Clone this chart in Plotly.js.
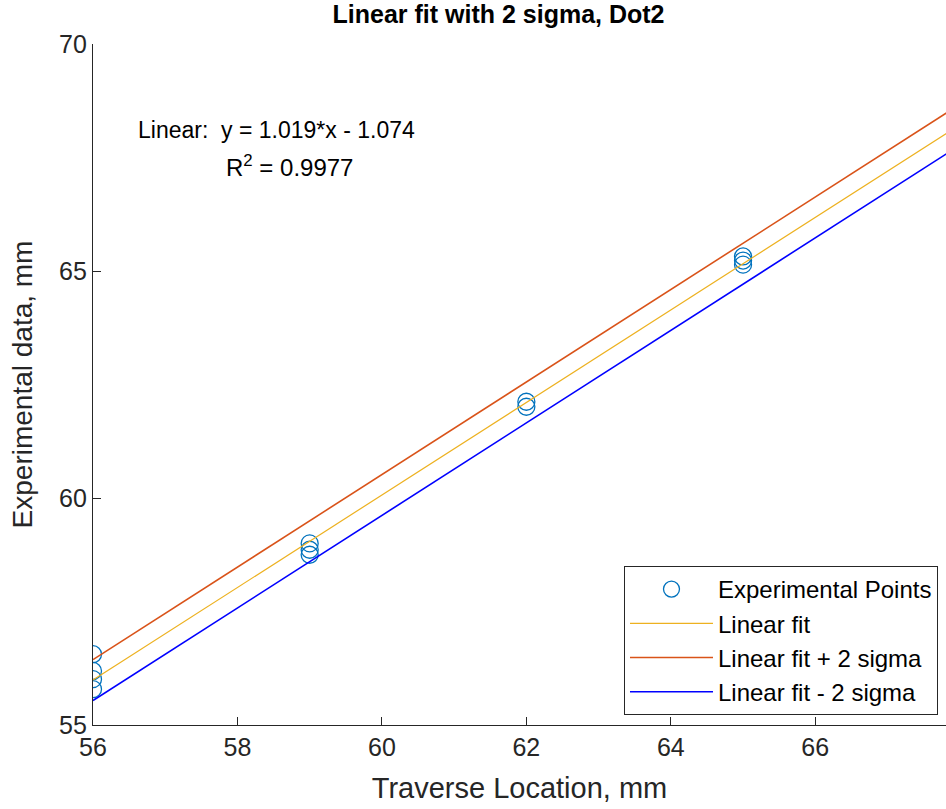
<!DOCTYPE html>
<html>
<head>
<meta charset="utf-8">
<script src="https://cdn.plot.ly/plotly-3.0.1.min.js"></script>
<style>html,body{margin:0;padding:0;background:#fff;}#chart{width:946px;height:809px;}</style>
</head>
<body>
<div id="chart"></div>
<script>
// Measured positions along the traverse (mm) and the measured values (mm)
const pointX = [56, 56, 56, 56, 59, 59, 59, 62, 62, 65, 65, 65];
const pointY = [56.56, 56.19, 56.01, 55.79, 59.00, 58.86, 58.75, 62.12, 62.01, 65.32, 65.23, 65.14];

// Fit coefficients and the 2-sigma band half-width
const slope = 1.019;
const intercept = -1.074;
const twoSigma = 0.45;
const fitX = [56, 68];

const fitY = fitX.map(x => slope * x + intercept);
const upperY = fitY.map(y => y + twoSigma);
const lowerY = fitY.map(y => y - twoSigma);

const font = 'Arial, "Liberation Sans", Helvetica, sans-serif';
const axisColor = '#262626';

const traces = [
  {x: pointX, y: pointY, mode: 'markers', name: 'Experimental Points',
   marker: {symbol: 'circle-open', size: 17, color: '#0072BD', line: {width: 1.3, color: '#0072BD'}}},
  {x: fitX, y: fitY, mode: 'lines', name: 'Linear fit', line: {color: '#EDB120', width: 1.2}},
  {x: fitX, y: upperY, mode: 'lines', name: 'Linear fit + 2 sigma', line: {color: '#D95319', width: 1.6}},
  {x: fitX, y: lowerY, mode: 'lines', name: 'Linear fit - 2 sigma', line: {color: '#0000FF', width: 1.6}}
];

const layout = {
  width: 946, height: 809,
  margin: {l: 93, r: 0, t: 44, b: 84},
  paper_bgcolor: '#fff', plot_bgcolor: '#fff',
  font: {family: font, color: axisColor},
  showlegend: true,
  title: {text: '<b>Linear fit with 2 sigma, Dot2</b>', x: 0.527, xanchor: 'center', y: 0.983, yanchor: 'middle',
          font: {size: 25, color: '#000', family: font}},
  xaxis: {range: [56, 67.81], tickvals: [56, 58, 60, 62, 64, 66], ticks: 'inside', ticklen: 8, tickcolor: axisColor,
          showline: true, linecolor: axisColor, linewidth: 1.2, showgrid: false, zeroline: false,
          tickfont: {size: 25, color: axisColor}, mirror: false,
          title: {text: 'Traverse Location, mm', font: {size: 29, color: axisColor}, standoff: 17}},
  yaxis: {range: [55, 70], tickvals: [55, 60, 65, 70], ticks: 'inside', ticklen: 8, tickcolor: axisColor,
          showline: true, linecolor: axisColor, linewidth: 1.2, showgrid: false, zeroline: false,
          tickfont: {size: 25, color: axisColor}, mirror: false,
          title: {text: 'Experimental data, mm', font: {size: 28, color: axisColor}, standoff: 18}},
  legend: {x: 0.6225, y: 0.2335, xanchor: 'left', yanchor: 'top', bgcolor: '#fff',
           bordercolor: '#262626', borderwidth: 1, font: {size: 24, color: '#000'},
           tracegroupgap: 0, itemwidth: 83},
  annotations: [
    {xref: 'paper', yref: 'paper', x: (136 - 93) / 853, y: (725 - 130) / 681, xanchor: 'left', yanchor: 'middle',
     showarrow: false, text: 'Linear:  y = 1.019*x - 1.074', font: {size: 23, color: '#000'}},
    {xref: 'paper', yref: 'paper', x: (224 - 93) / 853, y: (725 - 166) / 681, xanchor: 'left', yanchor: 'middle',
     showarrow: false, text: 'R<sup>2</sup> = 0.9977', font: {size: 24, color: '#000'}}
  ]
};

Plotly.newPlot('chart', traces, layout, {displayModeBar: false, staticPlot: true});
</script>
</body>
</html>
